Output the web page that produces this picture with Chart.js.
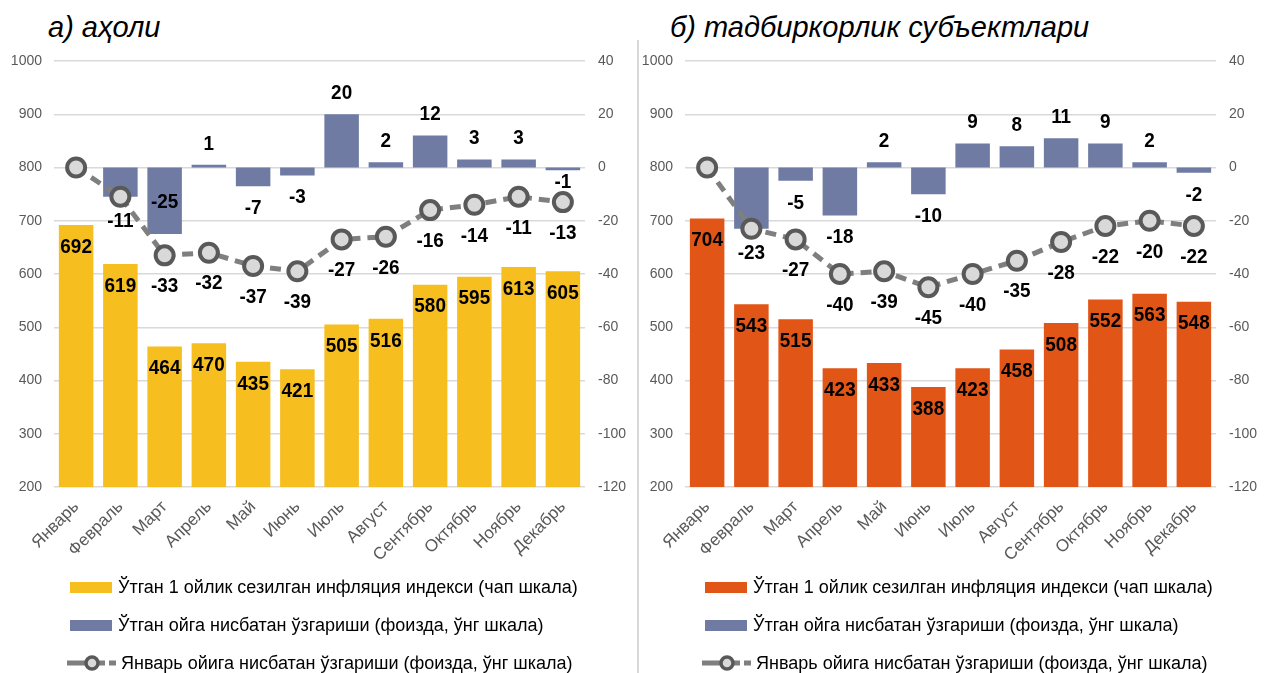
<!doctype html>
<html lang="uz">
<head>
    <meta charset="utf-8">
    <title>Сезилган инфляция индекси</title>
    <script src="https://cdn.jsdelivr.net/npm/chart.js@4.4.0/dist/chart.umd.min.js"></script>
    <style>
        html, body { margin: 0; padding: 0; background: #fff; }
        #wrap { position: relative; width: 1264px; height: 673px; overflow: hidden; font-family: "Liberation Sans", Arial, sans-serif; }
        .panel { position: absolute; top: 0; height: 570px; }
        .title { position: absolute; top: 11px; font-family: "Liberation Sans", Arial, sans-serif; font-style: italic; font-size: 29px; color: #000; white-space: nowrap; }
        .sep { position: absolute; left: 637px; top: 40px; width: 2px; height: 633px; background: #d9d9d9; }
        .legend { position: absolute; top: 568px; font-size: 18px; color: #000; }
        .legend .row { height: 38px; display: flex; align-items: center; white-space: nowrap; }
        .legend .box { width: 42px; height: 11px; margin-right: 6px; }
        .legend svg { margin-right: 4px; }
    </style>
</head>
<body>
<div id="wrap">
    <div class="title" style="left:48px">а) аҳоли</div>
    <div class="title" style="left:670px">б) тадбиркорлик субъектлари</div>
    <div class="panel" style="left:0;width:637px"><canvas id="chartA"></canvas></div>
    <div class="panel" style="left:640px;width:624px"><canvas id="chartB"></canvas></div>
    <div class="sep"></div>
    <div class="legend" id="legendA" style="left:70px"></div>
    <div class="legend" id="legendB" style="left:705px"></div>
</div>

<script>
    const months = ['Январь', 'Февраль', 'Март', 'Апрель', 'Май', 'Июнь', 'Июль', 'Август', 'Сентябрь', 'Октябрь', 'Ноябрь', 'Декабрь'];

    // а) аҳоли
    const indexA = [692, 619, 464, 470, 435, 421, 505, 516, 580, 595, 613, 605];
    const monthChangeA = [0, -11, -25, 1, -7, -3, 20, 2, 12, 3, 3, -1];
    const janChangeA = [0, -11, -33, -32, -37, -39, -27, -26, -16, -14, -11, -13];

    // б) тадбиркорлик субъектлари
    const indexB = [704, 543, 515, 423, 433, 388, 423, 458, 508, 552, 563, 548];
    const monthChangeB = [0, -23, -5, -18, 2, -10, 9, 8, 11, 9, 2, -2];
    const janChangeB = [0, -23, -27, -40, -39, -45, -40, -35, -28, -22, -20, -22];

    const legendLabels = [
        'Ўтган 1 ойлик сезилган инфляция индекси (чап шкала)',
        'Ўтган ойга нисбатан ўзгариши (фоизда, ўнг шкала)',
        'Январь ойига нисбатан ўзгариши  (фоизда, ўнг шкала)'
    ];

    const blue = '#6f7ba3';
    const lineGray = '#7f7f7f';
    const tickGray = '#595959';
    const labelFont = 'bold 21px "Liberation Sans", Arial, sans-serif';

    // Excel-like data labels; text squeezed a bit to look like Arial Narrow
    function drawLabel(ctx, text, x, y) {
        ctx.save();
        ctx.translate(x, y);
        ctx.scale(0.9, 1);
        ctx.fillText(text, 0, 0);
        ctx.restore();
    }

    const valueLabels = {
        id: 'valueLabels',
        afterDatasetsDraw(chart) {
            const ctx = chart.ctx;
            const lineMeta = chart.getDatasetMeta(2);
            const lineData = chart.data.datasets[2].data;
            ctx.save();
            ctx.font = labelFont;
            ctx.fillStyle = '#000';
            ctx.textAlign = 'center';
            ctx.textBaseline = 'middle';

            chart.getDatasetMeta(0).data.forEach((bar, i) => {
                drawLabel(ctx, chart.data.datasets[0].data[i], bar.x, bar.y + 22);
            });

            chart.getDatasetMeta(1).data.forEach((bar, i) => {
                const v = chart.data.datasets[1].data[i];
                if (v === 0 || v === lineData[i]) return;
                let y;
                if (v > 0) {
                    y = bar.y - 21;
                } else {
                    y = bar.y + 22;
                    const pt = lineMeta.data[i];
                    if (Math.abs(y - pt.y) < 24) {
                        // keep it off the marker: inside a long bar, tight under a short one
                        y = (bar.y - bar.base > 40) ? bar.y - 32 : bar.y + 12;
                    }
                }
                drawLabel(ctx, v, bar.x, y);
            });

            lineMeta.data.forEach((pt, i) => {
                const v = lineData[i];
                if (v === 0) return;
                drawLabel(ctx, v, pt.x, pt.y + (i === 1 ? 24 : 31));
            });
            ctx.restore();
        }
    };

    function makeChart(id, barColor, index, monthChange, janChange, leftW, rightW) {
        return new Chart(document.getElementById(id), {
            type: 'bar',
            data: {
                labels: months,
                datasets: [{
                    label: legendLabels[0],
                    data: index,
                    backgroundColor: barColor,
                    yAxisID: 'y',
                    grouped: false,
                    barPercentage: 0.78,
                    categoryPercentage: 1,
                    order: 2
                }, {
                    label: legendLabels[1],
                    data: monthChange,
                    backgroundColor: blue,
                    yAxisID: 'y1',
                    grouped: false,
                    barPercentage: 0.78,
                    categoryPercentage: 1,
                    order: 1
                }, {
                    type: 'line',
                    label: legendLabels[2],
                    data: janChange,
                    yAxisID: 'y1',
                    borderColor: lineGray,
                    borderWidth: 5,
                    borderDash: [11, 7],
                    pointRadius: 9,
                    pointBorderWidth: 4,
                    pointBackgroundColor: '#d9d9d9',
                    pointBorderColor: '#595959',
                    tension: 0,
                    order: 0
                }]
            },
            options: {
                responsive: true,
                maintainAspectRatio: false,
                animation: false,
                layout: { padding: { top: 61, left: 0, right: 0, bottom: 0 } },
                plugins: {
                    legend: { display: false },
                    tooltip: { enabled: false }
                },
                scales: {
                    x: {
                        grid: { display: false },
                        border: { display: false },
                        ticks: {
                            color: tickGray,
                            font: { family: '"Liberation Sans", Arial', size: 17 },
                            minRotation: 45,
                            maxRotation: 45,
                            padding: 2
                        },
                        afterFit: s => { s.height = 83; }
                    },
                    y: {
                        position: 'left',
                        min: 200,
                        max: 1000,
                        ticks: {
                            stepSize: 100,
                            color: tickGray,
                            font: { family: '"Liberation Sans", Arial', size: 14 },
                            padding: 12,
                            callback: v => String(v)
                        },
                        grid: { color: '#d9d9d9', lineWidth: 1.5, drawTicks: false },
                        border: { display: false },
                        afterFit: s => { s.width = leftW; }
                    },
                    y1: {
                        position: 'right',
                        min: -120,
                        max: 40,
                        ticks: {
                            stepSize: 20,
                            color: tickGray,
                            font: { family: '"Liberation Sans", Arial', size: 14 },
                            padding: 13,
                            callback: v => String(v)
                        },
                        grid: { display: false, drawTicks: false },
                        border: { display: false },
                        afterFit: s => { s.width = rightW; }
                    }
                }
            },
            plugins: [valueLabels]
        });
    }

    function makeLegend(id, barColor) {
        const el = document.getElementById(id);
        el.innerHTML =
            '<div class="row"><span class="box" style="background:' + barColor + '"></span>' + legendLabels[0] + '</div>' +
            '<div class="row"><span class="box" style="background:' + blue + '"></span>' + legendLabels[1] + '</div>' +
            '<div class="row"><svg width="50" height="20" style="margin-left:-3px">' +
            '<line x1="0" y1="10" x2="38" y2="10" stroke="' + lineGray + '" stroke-width="5"/>' +
            '<line x1="42" y1="10" x2="49" y2="10" stroke="' + lineGray + '" stroke-width="5"/>' +
            '<circle cx="25" cy="10" r="6" fill="#d9d9d9" stroke="#595959" stroke-width="3.5"/>' +
            '</svg>' + legendLabels[2] + '</div>';
    }

    makeChart('chartA', '#f6be1e', indexA, monthChangeA, janChangeA, 54, 52);
    makeChart('chartB', '#e15517', indexB, monthChangeB, janChangeB, 45, 48);
    makeLegend('legendA', '#f6be1e');
    makeLegend('legendB', '#e15517');
</script>
</body>
</html>
